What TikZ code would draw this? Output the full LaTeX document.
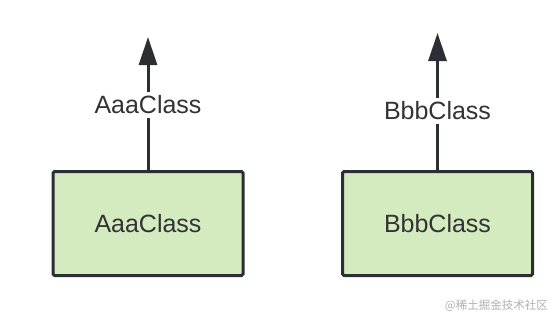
\documentclass[tikz,border=0pt]{standalone}
\usepackage{fontspec}
\setmainfont{Liberation Sans}
\newfontfamily\cjk{Noto Sans CJK SC}
\usetikzlibrary{arrows.meta}
\definecolor{boxfill}{HTML}{D3EBBF}
\definecolor{edge}{HTML}{2B2F33}
\definecolor{txt}{HTML}{333333}
\definecolor{wm}{HTML}{B0B0B0}
\begin{document}
\begin{tikzpicture}[x=1pt,y=-1pt,
  classbox/.style={draw=edge,fill=boxfill,line width=3pt,rounded corners=1.5pt,minimum width=190pt,minimum height=104pt,inner sep=0pt,font=\fontsize{25}{30}\selectfont,text=txt},
  lbl/.style={fill=white,inner sep=4pt,font=\fontsize{25}{30}\selectfont,text=txt},
  uparrow/.style={draw=edge,line width=3pt,-{Triangle[length=28pt,width=18pt]}}]
\useasboundingbox (0,0) rectangle (560,324);
\node[classbox] (a) at (148,223.5) {AaaClass};
\node[classbox] (b) at (437.5,223.5) {BbbClass};
\coordinate (at) at (148,37);
\coordinate (bt) at (437.5,33);
\draw[uparrow] (a.north) -- (at);
\draw[uparrow] (b.north) -- (bt);
\node[lbl] (al) at (148,105) {AaaClass};
\node[lbl] (bl) at (437.5,111) {BbbClass};
\node[text=wm,font=\cjk\fontsize{11.5}{14}\selectfont,anchor=east,inner sep=0pt] (w) at (548,306) {@稀土掘金技术社区};
\end{tikzpicture}
\end{document}
